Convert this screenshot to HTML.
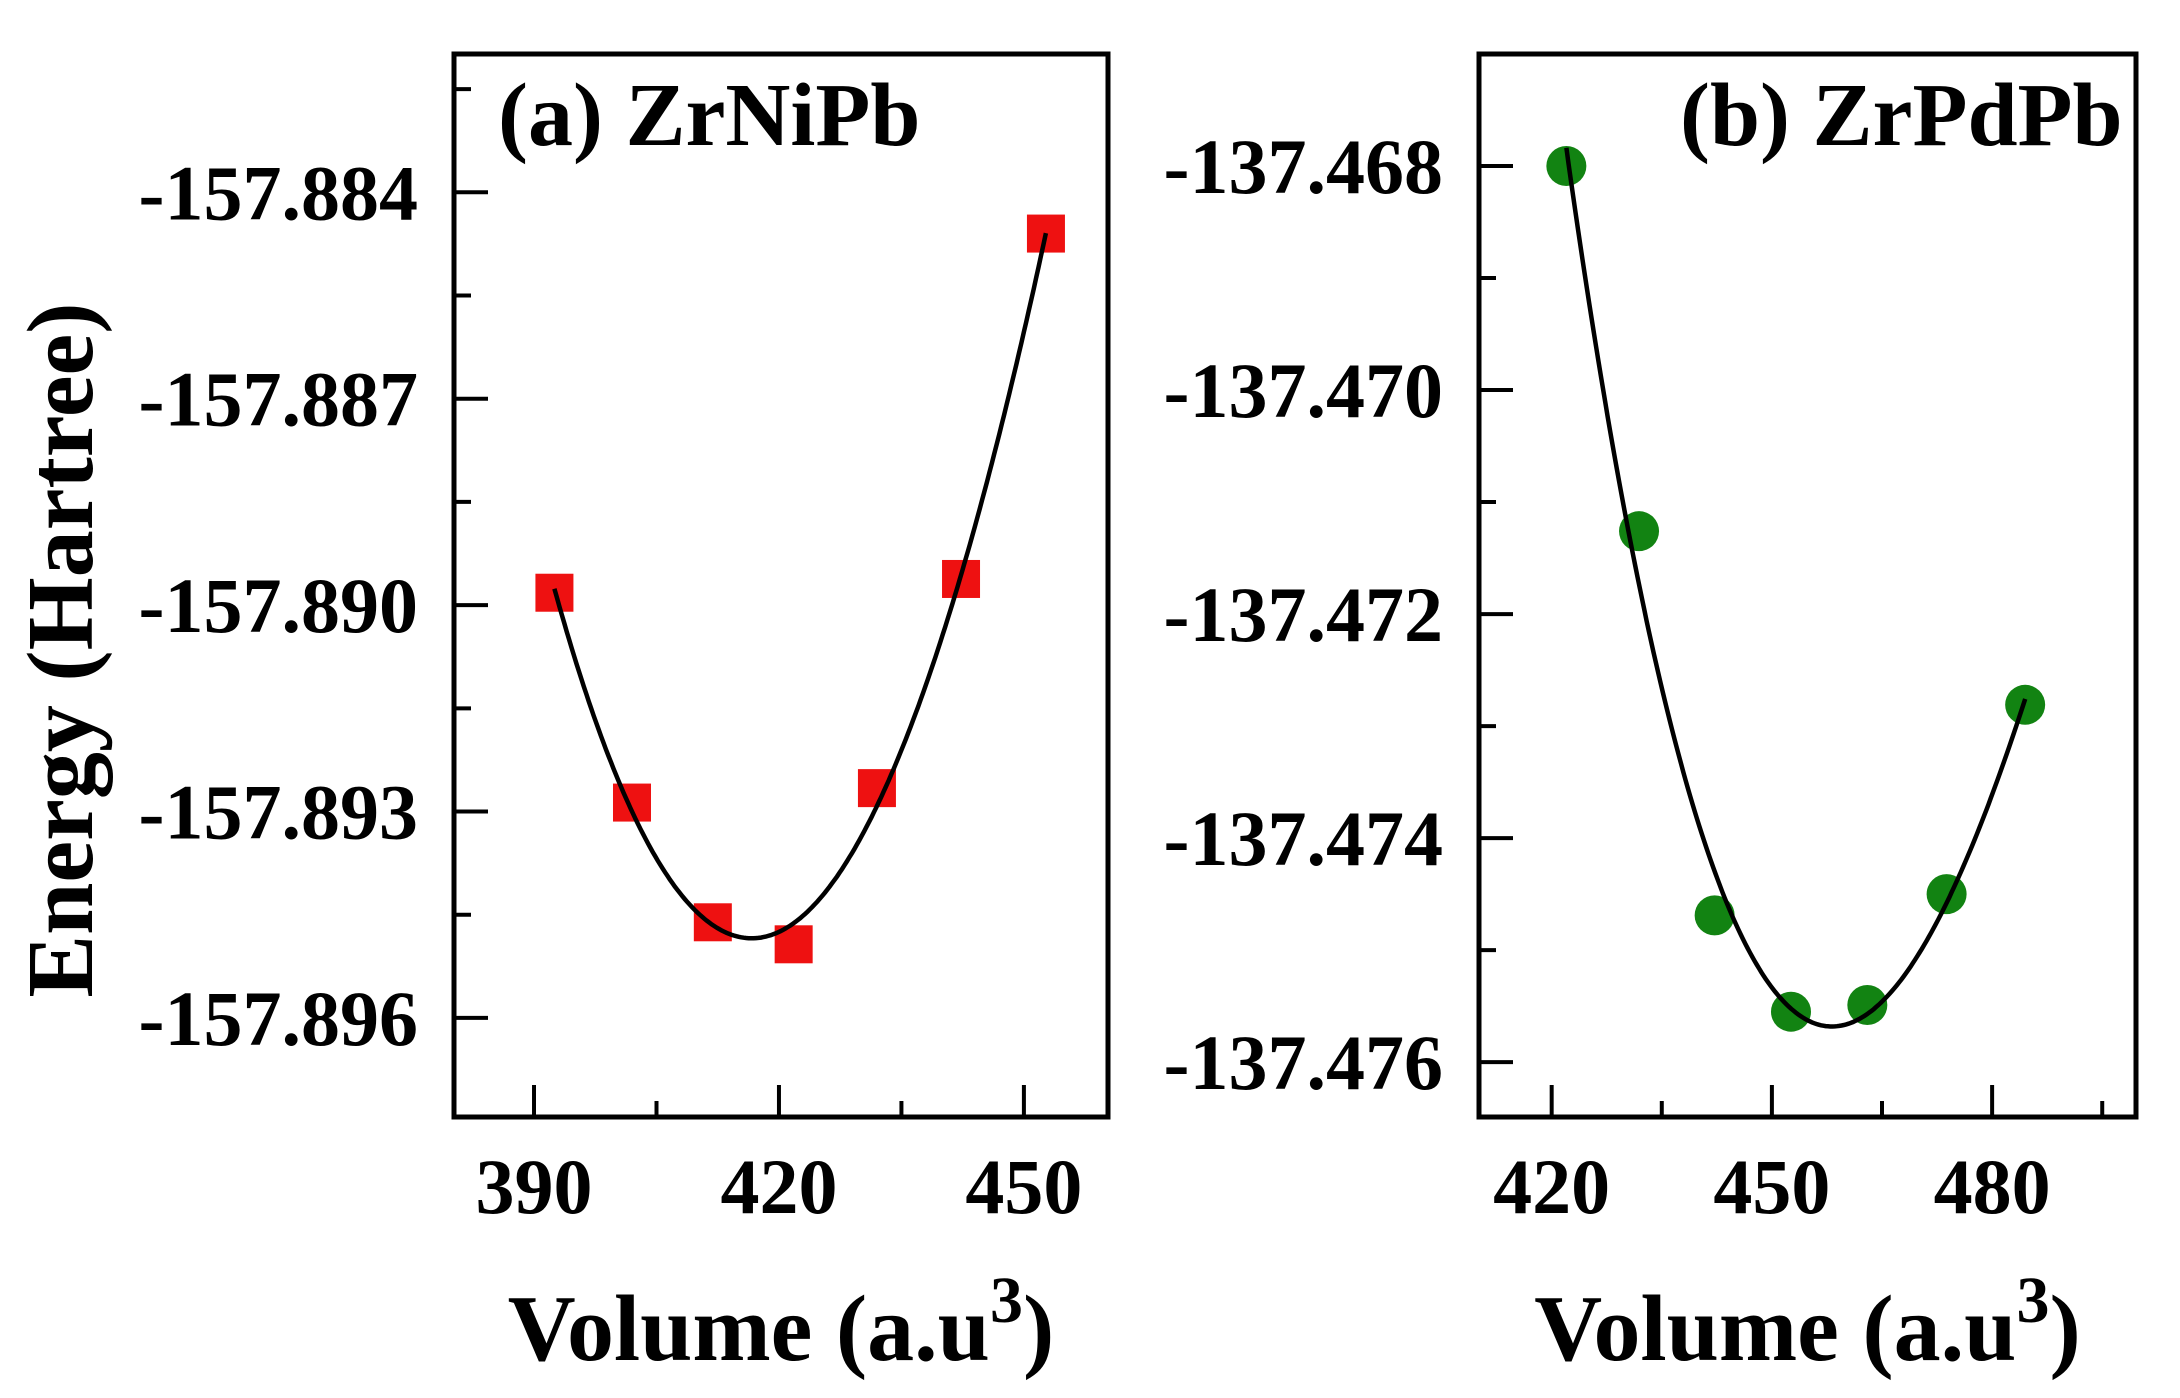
<!DOCTYPE html>
<html><head><meta charset="utf-8"><style>
html,body{margin:0;padding:0;background:#fff;}
svg{display:block;}
text{font-family:"Liberation Serif",serif;font-weight:bold;fill:#000;}
</style></head><body>
<svg id="chart" width="2180" height="1398" viewBox="0 0 2180 1398">
<text x="0" y="0" font-size="94" text-anchor="middle" transform="translate(92,650) rotate(-90)">Energy (Hartree)</text>
</svg>
<script>
// Panel (a) ZrNiPb data
const volA = [392.5, 402.0, 411.9, 421.8, 432.0, 442.3, 452.7];
const energyA = [-157.88982, -157.89287, -157.89461, -157.89493, -157.89266, -157.88962, -157.88460];
const yTicksA = [-157.884, -157.887, -157.890, -157.893, -157.896];
const yTickLabelsA = ["-157.884", "-157.887", "-157.890", "-157.893", "-157.896"];
const xTicksA = [390, 420, 450];
const xTickLabelsA = ["390", "420", "450"];
// Panel (b) ZrPdPb data
const volB = [422.0, 431.9, 442.2, 452.6, 463.0, 473.8, 484.5];
const energyB = [-137.4680, -137.47126, -137.47469, -137.47555, -137.47549, -137.47450, -137.47281];
const yTicksB = [-137.468, -137.470, -137.472, -137.474, -137.476];
const yTickLabelsB = ["-137.468", "-137.470", "-137.472", "-137.474", "-137.476"];
const xTicksB = [420, 450, 480];
const xTickLabelsB = ["420", "450", "480"];

const NS = "http://www.w3.org/2000/svg";
const svg = document.getElementById('chart');
function mk(tag, attrs, parent){
  const e = document.createElementNS(NS, tag);
  for (const k in attrs) e.setAttribute(k, attrs[k]);
  (parent||svg).appendChild(e);
  return e;
}
function cubicFit(xs, ys){
  const m = xs.reduce((a,b)=>a+b,0)/xs.length;
  const n = 4, A = [], B = [];
  for (let i=0;i<n;i++){A.push(new Array(n).fill(0));B.push(0);}
  xs.forEach((x,k)=>{const t=(x-m)/10;const p=[1,t,t*t,t*t*t];
    for(let i=0;i<n;i++){B[i]+=p[i]*ys[k];for(let j=0;j<n;j++)A[i][j]+=p[i]*p[j];}});
  for(let i=0;i<n;i++){let piv=i;for(let r=i+1;r<n;r++)if(Math.abs(A[r][i])>Math.abs(A[piv][i]))piv=r;
    [A[i],A[piv]]=[A[piv],A[i]];[B[i],B[piv]]=[B[piv],B[i]];
    for(let r=0;r<n;r++){if(r===i)continue;const f=A[r][i]/A[i][i];for(let c=i;c<n;c++)A[r][c]-=f*A[i][c];B[r]-=f*B[i];}}
  const c = B.map((b,i)=>b/A[i][i]);
  return x=>{const t=(x-m)/10;return c[0]+c[1]*t+c[2]*t*t+c[3]*t*t*t;};
}
function panel(o){
  const g = mk('g', {});
  
  
  const sx = v => o.left + (v - o.x0)/(o.x1 - o.x0)*(o.right - o.left);
  const sy = v => o.top + (o.y1 - v)/(o.y1 - o.y0)*(o.bottom - o.top);
  const f = cubicFit(o.xs, o.ys);
  const xmin = Math.min(...o.xs), xmax = Math.max(...o.xs);
  let d = '';
  for (let i=0;i<=200;i++){const x = xmin + (xmax-xmin)*i/200; d += (i?'L':'M') + sx(x).toFixed(1) + ',' + sy(f(x)).toFixed(1);}
  o.xs.forEach((x,i)=>{
    let m;
    if (o.marker==='square') m = mk('rect',{x:sx(x)-19,y:sy(o.ys[i])-19,width:38,height:38,fill:o.color},g);
    else m = mk('ellipse',{cx:sx(x),cy:sy(o.ys[i]),rx:20,ry:20,fill:o.color},g);
    
    
  });
  const c = mk('path',{d:d,fill:'none',stroke:'#000','stroke-width':4.5},g);
  
  
  const fr = mk('rect',{x:o.left,y:o.top,width:o.right-o.left,height:o.bottom-o.top,fill:'none',stroke:'#000','stroke-width':5},g);
  
  
  const ystep = o.yTicks[1]-o.yTicks[0];
  o.yTicks.forEach((v,i)=>{
    const y = sy(v);
    const t = mk('line',{x1:o.left,x2:o.left+34,y1:y,y2:y,stroke:'#000','stroke-width':4},g);
    
    
    const l = mk('text',{x:o.left-36,y:y+27,'font-size':78,'text-anchor':'end'},g);
    l.textContent = o.yLabels[i];
    
    
  });
  for (let k=-1;k<o.yTicks.length;k++){
    const v = o.yTicks[0] + ystep*(k+0.5);
    const y = sy(v);
    if (y < o.top+6 || y > o.bottom-6) continue;
    const t = mk('line',{x1:o.left,x2:o.left+17,y1:y,y2:y,stroke:'#000','stroke-width':4},g);
    
    
  }
  const xstep = o.xTicks[1]-o.xTicks[0];
  o.xTicks.forEach((v,i)=>{
    const x = sx(v);
    const t = mk('line',{x1:x,x2:x,y1:o.bottom,y2:o.bottom-32,stroke:'#000','stroke-width':4},g);
    
    
    const l = mk('text',{x:x,y:1213,'font-size':78,'text-anchor':'middle'},g);
    l.textContent = o.xLabels[i];
    
    
  });
  for (let k=-1;k<o.xTicks.length;k++){
    const x = sx(o.xTicks[0] + xstep*(k+0.5));
    if (x < o.left+6 || x > o.right-6) continue;
    const t = mk('line',{x1:x,x2:x,y1:o.bottom,y2:o.bottom-16,stroke:'#000','stroke-width':4},g);
    
    
  }
  const ti = mk('text',{x:o.titleX,y:145,'font-size':90},g);
  ti.textContent = o.title;
  
  
  const xt = mk('text',{x:(o.left+o.right)/2,y:1360,'font-size':94,'text-anchor':'middle'},g);
  
  
  const s1 = mk('tspan',{},xt); s1.textContent = 'Volume (a.u';
  const s2 = mk('tspan',{dy:-38,'font-size':66},xt); s2.textContent = '3';
  const s3 = mk('tspan',{dy:38},xt); s3.textContent = ')';
}
panel({name:'panel-a-zrnipb', left:454, right:1108, top:54, bottom:1117,
  x0:380.2, x1:460.3, y0:-157.89744, y1:-157.88199,
  xs:volA, ys:energyA, yTicks:yTicksA, yLabels:yTickLabelsA, xTicks:xTicksA, xLabels:xTickLabelsA,
  marker:'square', color:'#ee1111', title:'(a) ZrNiPb', titleX:498});
panel({name:'panel-b-zrpdpb', left:1479, right:2136, top:54, bottom:1117,
  x0:410.1, x1:499.6, y0:-137.47649, y1:-137.46700,
  xs:volB, ys:energyB, yTicks:yTicksB, yLabels:yTickLabelsB, xTicks:xTicksB, xLabels:xTickLabelsB,
  marker:'circle', color:'#128312', title:'(b) ZrPdPb', titleX:1680});
</script>
</body></html>
